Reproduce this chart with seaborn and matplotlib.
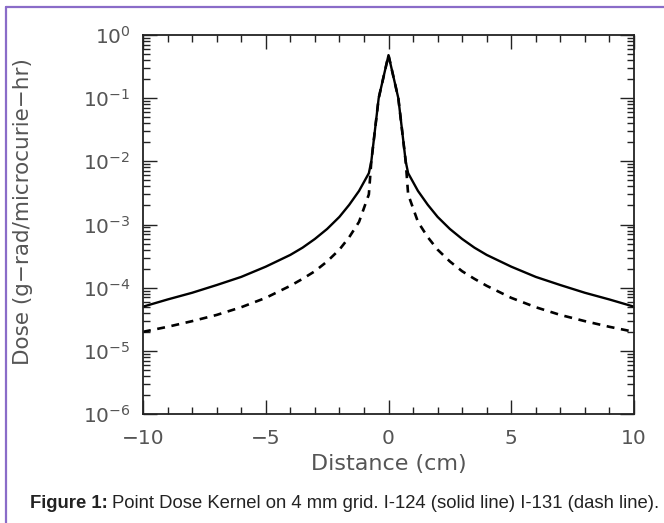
import numpy as np
import pandas as pd
import matplotlib
matplotlib.use("Agg")
import matplotlib.pyplot as plt
import seaborn as sns
from matplotlib.ticker import FixedLocator, LogLocator, LogFormatterMathtext, NullFormatter
from matplotlib.lines import Line2D

# ---- data ----
distance = [-10, -9, -8, -7, -6, -5, -4, -3.5, -3, -2.5, -2, -1.6, -1.2, -0.8, -0.7, -0.4, 0,
            0.4, 0.7, 0.8, 1.2, 1.6, 2, 2.5, 3, 3.5, 4, 5, 6, 7, 8, 9, 10]
dose_i124 = [5.0e-5, 6.5e-5, 8.3e-5, 1.1e-4, 1.48e-4, 2.15e-4, 3.3e-4, 4.3e-4, 5.9e-4, 8.5e-4, 1.32e-3,
             2.05e-3, 3.4e-3, 6.5e-3, 1.0e-2, 1.0e-1, 4.8e-1,
             1.0e-1, 1.0e-2, 6.5e-3, 3.4e-3, 2.05e-3, 1.32e-3, 8.5e-4, 5.9e-4, 4.3e-4, 3.3e-4, 2.15e-4,
             1.48e-4, 1.1e-4, 8.3e-5, 6.5e-5, 5.0e-5]
dose_i131 = [2.0e-5, 2.4e-5, 2.95e-5, 3.7e-5, 4.9e-5, 6.9e-5, 1.07e-4, 1.38e-4, 1.82e-4, 2.6e-4, 4.0e-4,
             6.3e-4, 1.1e-3, 3.0e-3, 1.0e-2, 1.0e-1, 4.8e-1,
             1.0e-1, 1.0e-2, 3.0e-3, 1.1e-3, 6.3e-4, 4.0e-4, 2.6e-4, 1.82e-4, 1.38e-4, 1.07e-4, 6.9e-5,
             4.9e-5, 3.7e-5, 2.95e-5, 2.4e-5, 2.0e-5]
x_ticks = [-10, -5, 0, 5, 10]
x_tick_labels = ["\u221210", "\u22125", "0", "5", "10"]

df = pd.DataFrame({
    "Distance": distance * 2,
    "Dose": dose_i124 + dose_i131,
    "Isotope": ["I-124"] * len(distance) + ["I-131"] * len(distance),
})

sns.set_style("ticks")
plt.rcParams["font.family"] = ["DejaVu Sans"]
plt.rcParams["mathtext.fontset"] = "dejavusans"

W, H = 664, 523
fig = plt.figure(figsize=(W / 100, H / 100), dpi=100)
fig.patch.set_facecolor("white")
ax = fig.add_axes([143 / W, 1 - 414 / H, (634 - 143) / W, (414 - 35) / H])

sns.lineplot(data=df[df.Isotope == "I-124"], x="Distance", y="Dose", ax=ax,
             color="black", lw=1.7, linestyle="-", legend=False)
sns.lineplot(data=df[df.Isotope == "I-131"], x="Distance", y="Dose", ax=ax,
             color="black", lw=1.9, linestyle=(0, (3.0, 2.5)), legend=False)

ax.set_yscale("log")
ax.set_xlim(-10, 10)
ax.set_ylim(1e-6, 1)

ax.xaxis.set_major_locator(FixedLocator(x_ticks))
ax.set_xticklabels(x_tick_labels)
ax.xaxis.set_minor_locator(FixedLocator(np.arange(-10, 11, 1)))
ax.yaxis.set_major_locator(LogLocator(base=10, numticks=10))
ax.yaxis.set_major_formatter(LogFormatterMathtext())
ax.yaxis.set_minor_locator(LogLocator(base=10, subs=np.arange(2, 10), numticks=20))
ax.yaxis.set_minor_formatter(NullFormatter())

txt_color = "#555555"
ax.tick_params(which="both", direction="in", top=True, right=True, color="#222222", width=1.0)
ax.tick_params(which="major", length=10, labelsize=14.5, labelcolor=txt_color)
ax.tick_params(axis="x", which="major", pad=11)
ax.tick_params(axis="y", which="major", pad=9)
ax.tick_params(which="minor", length=5)
for s in ax.spines.values():
    s.set_color("#222222")
    s.set_linewidth(1.3)

ax.set_xlabel("Distance (cm)", fontsize=16, color=txt_color, labelpad=4)
ax.set_ylabel("Dose (g\u2212rad/microcurie\u2212hr)", fontsize=15.5, color=txt_color)
ax.yaxis.set_label_coords(-(143 - 33) / (634 - 143), (414 - 212) / (414 - 35))

# caption
cap_y = 1 - 503 / H
t1 = fig.text(30 / W, cap_y, "Figure 1:", fontsize=13.3, fontweight="bold", color="#222222",
              family="Liberation Sans", va="center", ha="left")
fig.canvas.draw()
bb = t1.get_window_extent(fig.canvas.get_renderer())
fig.text((bb.x1 + 4) / W, cap_y,
         "Point Dose Kernel on 4 mm grid. I-124 (solid line) I-131 (dash line).",
         fontsize=13.3, color="#222222", family="Liberation Sans", va="center", ha="left")

# purple frame (top and left)
purple = "#8a6cc8"
fig.add_artist(Line2D([6 / W, 6 / W], [0, 1 - 7 / H], color=purple, lw=1.6, transform=fig.transFigure))
fig.add_artist(Line2D([6 / W, 1], [1 - 7 / H, 1 - 7 / H], color=purple, lw=1.6, transform=fig.transFigure))

fig.savefig("out.png", dpi=100, facecolor="white")
